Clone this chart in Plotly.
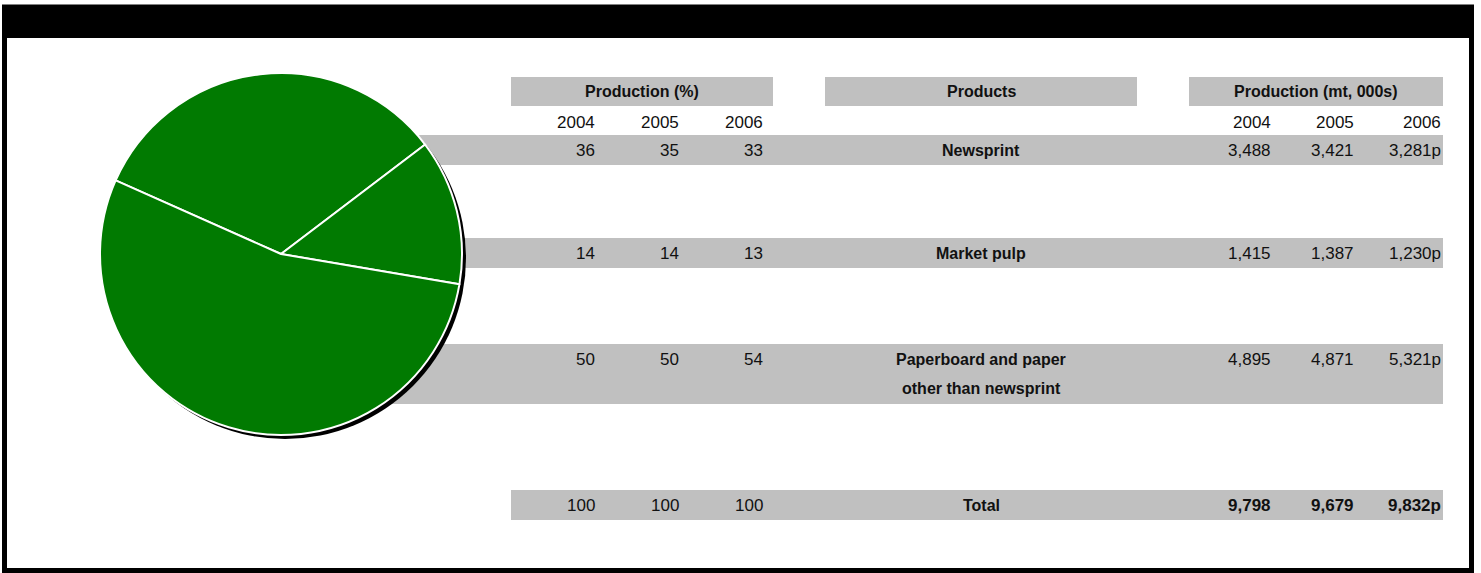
import plotly.graph_objects as go

# data
years = ["2004", "2005", "2006"]
products = ["Newsprint", "Market pulp", "Paperboard and paper<br>other than newsprint"]
pct_2004 = [36, 14, 50]
pct_2005 = [35, 14, 50]
pct_2006 = [33, 13, 54]
pct_total = [100, 100, 100]
prod_2004 = [3488, 1415, 4895]
prod_2005 = [3421, 1387, 4871]
prod_2006 = [3281, 1230, 5321]
prod_total = [9798, 9679, 9832]
provisional = [False, False, True]  # 2006 figures carry a "p"

W, H = 1481, 573
FONT = "Liberation Sans, Arial, sans-serif"
GREY = "#C0C0C0"
GREEN = "#017A01"

fig = go.Figure()

# pie (2006 shares), placed as a square in pixels
cx, cy, r = 281, 254, 181
fig.add_trace(go.Pie(
    labels=[p.replace("<br>", " ") for p in products],
    values=pct_2006,
    sort=False,
    direction="clockwise",
    rotation=-66,
    marker=dict(colors=[GREEN] * 3, line=dict(color="white", width=2)),
    textinfo="none",
    showlegend=False,
    domain=dict(x=[(cx - r) / W, (cx + r) / W], y=[1 - (cy + r) / H, 1 - (cy - r) / H]),
))

# invisible pixel axes for the table layout
fig.update_xaxes(range=[0, W], visible=False, domain=[0, 1])
fig.update_yaxes(range=[H, 0], visible=False, domain=[0, 1])

shapes = []
# grey bands behind the rows
row_text_y = [150, 253, 359, 505]
bands = [(135, 165, cx), (238, 268, cx), (344, 404, cx), (490, 520, 511)]
for y0, y1, x0 in bands:
    shapes.append(dict(type="rect", xref="x", yref="y", x0=x0, x1=1443, y0=y0, y1=y1,
                       fillcolor=GREY, line_width=0, layer="below"))
# header boxes
headers = [("Production (%)", 511, 773), ("Products", 825, 1137), ("Production (mt, 000s)", 1189, 1443)]
for _, x0, x1 in headers:
    shapes.append(dict(type="rect", xref="x", yref="y", x0=x0, x1=x1, y0=77, y1=106,
                       fillcolor=GREY, line_width=0, layer="below"))
# pie shadow
shapes.append(dict(type="circle", xref="x", yref="y", x0=cx - r + 4, x1=cx + r + 4,
                   y0=cy - r + 4, y1=cy + r + 4, fillcolor="black", line_width=0, layer="below"))
# frame and header bar
shapes.append(dict(type="rect", xref="x", yref="y", x0=2, x1=1474, y0=5, y1=38,
                   fillcolor="black", line_width=0, layer="above"))
shapes.append(dict(type="rect", xref="x", yref="y", x0=4.5, x1=1471.5, y0=7, y1=570.5,
                   line=dict(color="black", width=5), layer="above"))

ann = []

def txt(x, y, s, anchor="right", bold=False, size=17):
    ann.append(dict(x=x, y=y, xref="x", yref="y", text=f"<b>{s}</b>" if bold else s,
                    showarrow=False, xanchor=anchor, yanchor="middle",
                    font=dict(family=FONT, size=size, color="#111111")))

for s, x0, x1 in headers:
    txt((x0 + x1) / 2, 91.5, s, "center", bold=True, size=16)

pct_x = [597, 681, 765]
prod_x = [1273, 1356, 1443]
for i, yr in enumerate(years):
    txt(pct_x[i], 122, yr)
    txt(prod_x[i], 122, yr)

pct_cols = [pct_2004, pct_2005, pct_2006]
prod_cols = [prod_2004, prod_2005, prod_2006]
for row, y in enumerate(row_text_y[:3]):
    for i in range(3):
        txt(pct_x[i], y, str(pct_cols[i][row]))
        v = f"{prod_cols[i][row]:,}" + ("p" if provisional[i] else "")
        txt(prod_x[i], y, v)
    for k, line in enumerate(products[row].split("<br>")):
        txt(981, y + 29 * k, line, "center", bold=True, size=16)

ty = row_text_y[3]
for i in range(3):
    txt(pct_x[i], ty, str(pct_total[i]))
    txt(prod_x[i], ty, f"{prod_total[i]:,}" + ("p" if provisional[i] else ""), bold=True)
txt(981, ty, "Total", "center", bold=True, size=16)

fig.update_layout(
    width=W, height=H,
    margin=dict(l=0, r=0, t=0, b=0),
    paper_bgcolor="white", plot_bgcolor="white",
    shapes=shapes, annotations=ann,
    showlegend=False,
)

# drop the page's default body margin so the figure sits at the window's corner
fig.write_html("out.html", config={"displayModeBar": False},
               post_script="document.body.style.margin='0';")
